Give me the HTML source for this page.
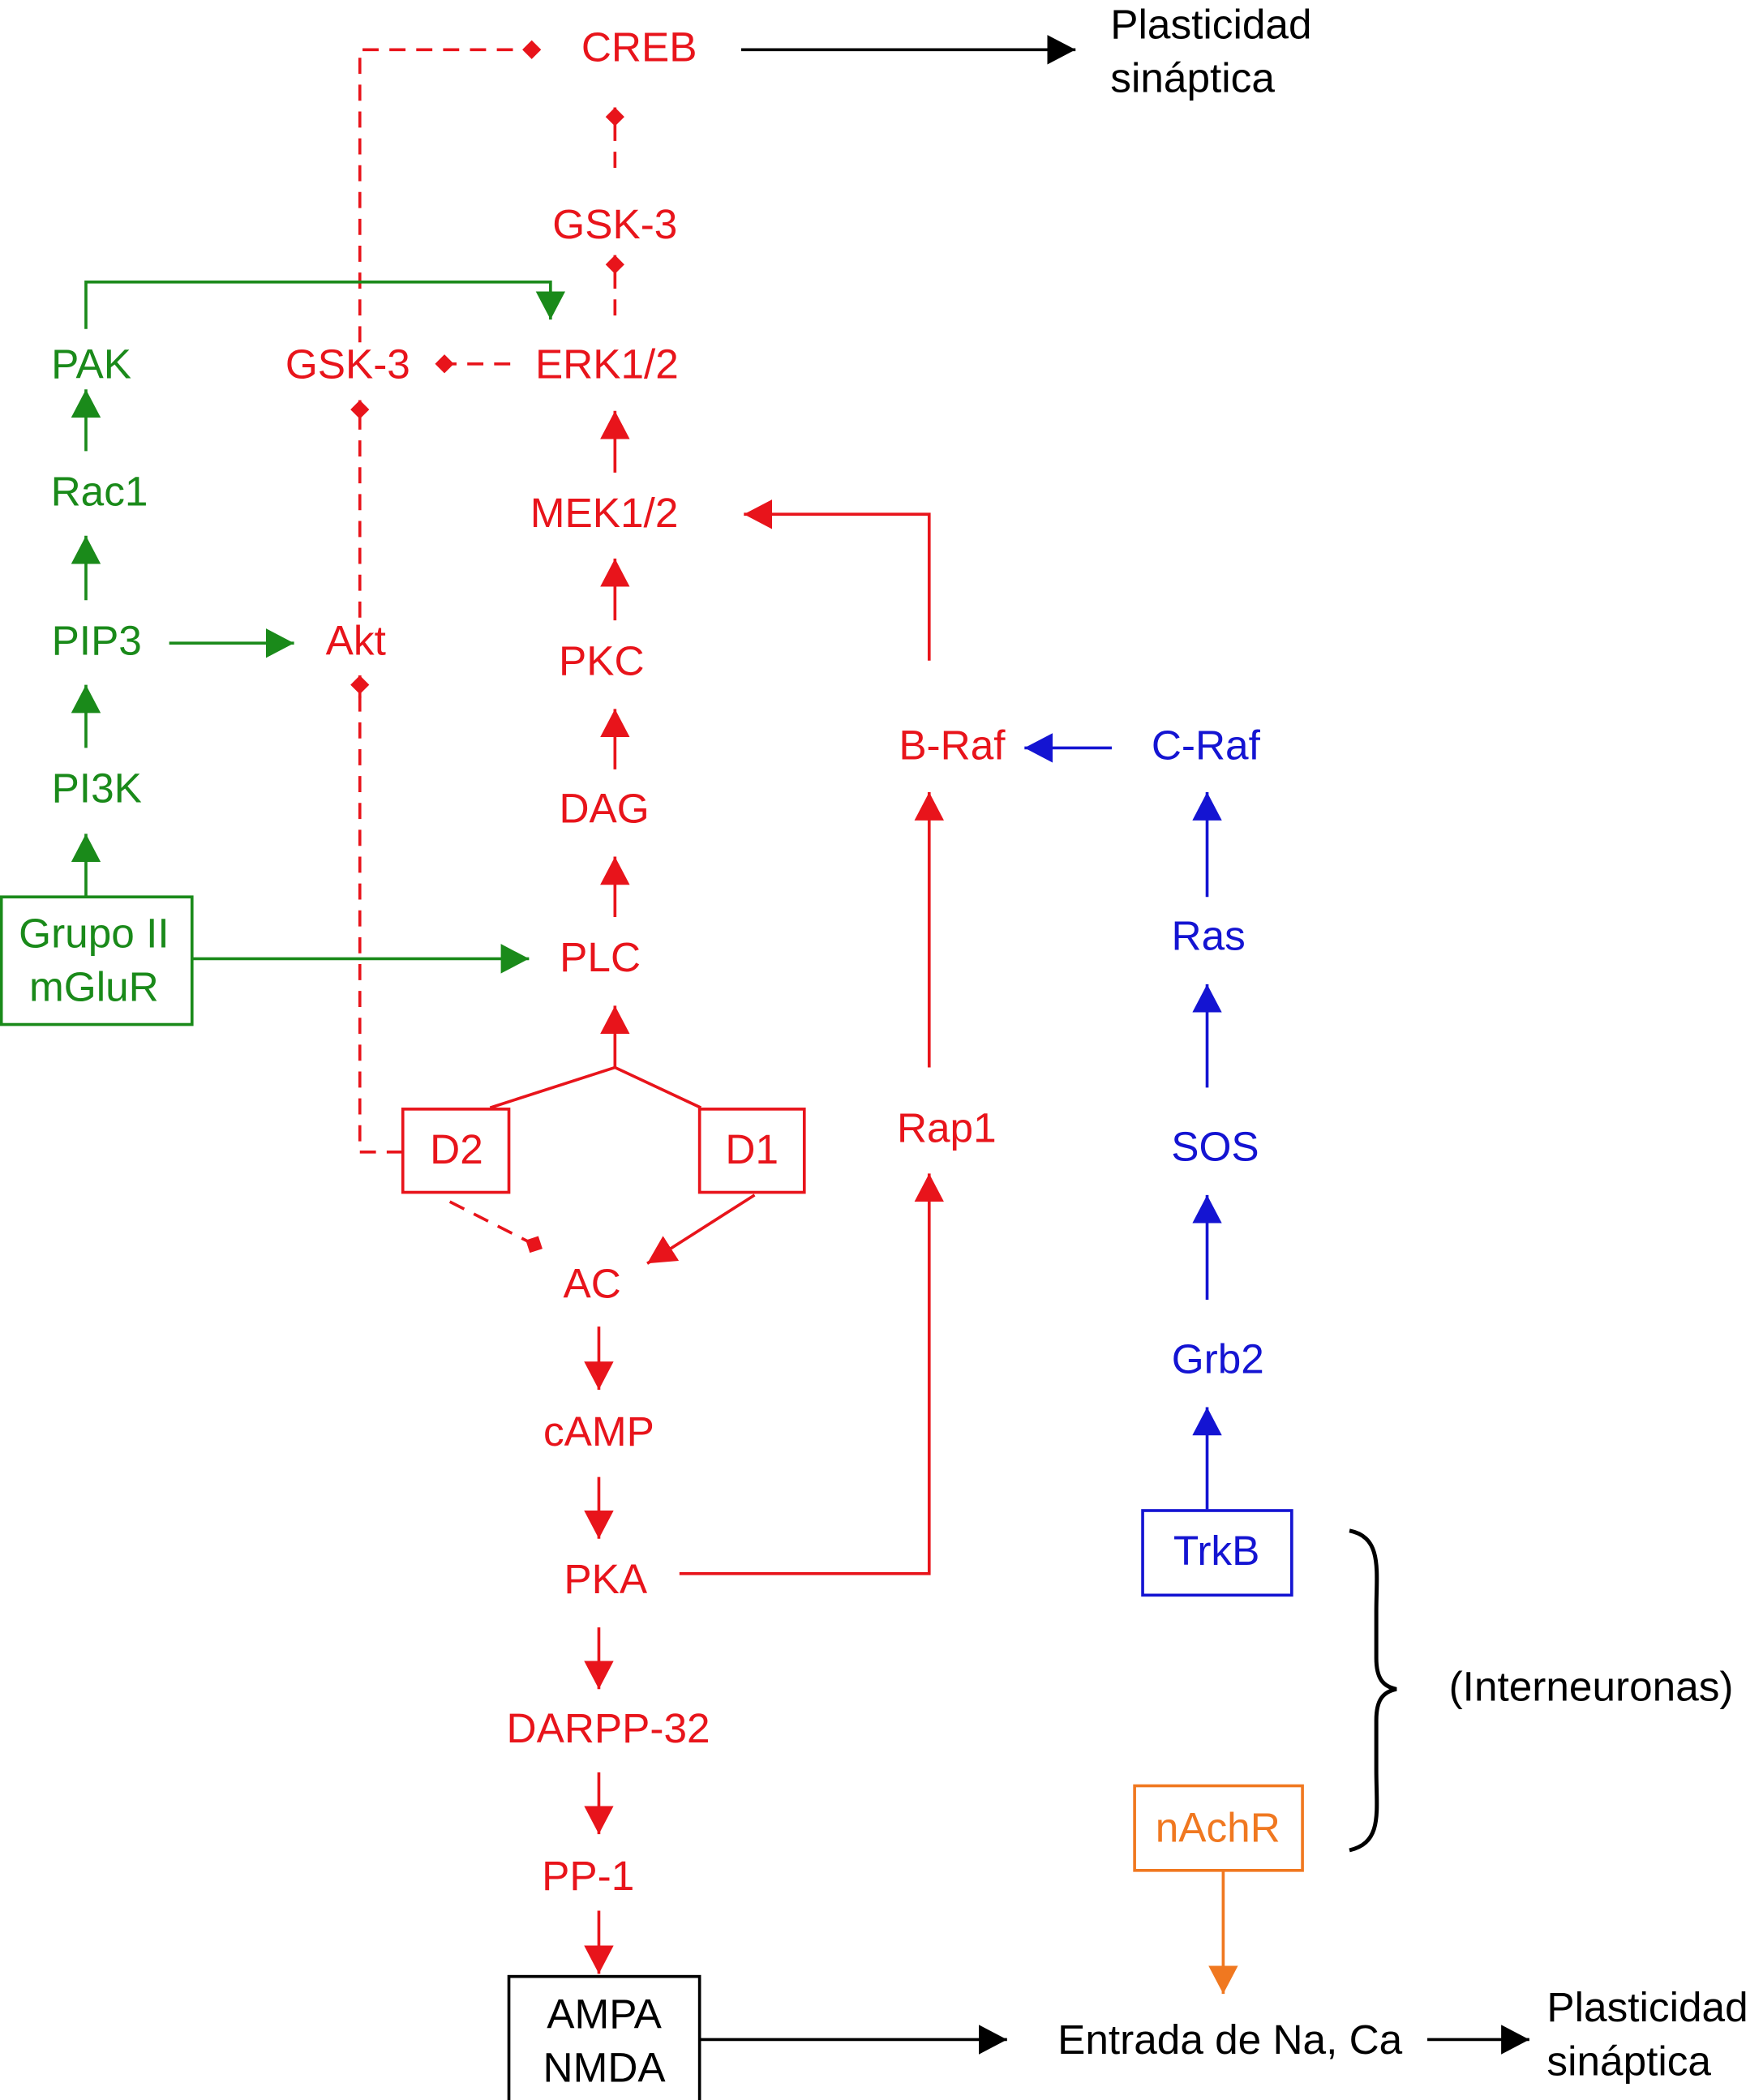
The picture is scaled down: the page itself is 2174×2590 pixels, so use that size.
<!DOCTYPE html>
<html><head><meta charset="utf-8"><style>
html,body{margin:0;padding:0;background:#fff}
svg{display:block}
text{font-family:"Liberation Sans",Arial,sans-serif;font-size:31px;text-anchor:middle;dominant-baseline:central}
.r{fill:#e8141b}.g{fill:#1a8a1a}.b{fill:#1414d2}.o{fill:#f07820}.k{fill:#000}
</style></head><body>
<svg width="2174" height="2590" viewBox="0 0 1313 1564" preserveAspectRatio="none" xmlns="http://www.w3.org/2000/svg">
<defs>
<marker id="ar" markerUnits="userSpaceOnUse" markerWidth="24" markerHeight="24" refX="21" refY="11" orient="auto"><path d="M0,0 L21,11 L0,22 z" fill="#e8141b"/></marker>
<marker id="ag" markerUnits="userSpaceOnUse" markerWidth="24" markerHeight="24" refX="21" refY="11" orient="auto"><path d="M0,0 L21,11 L0,22 z" fill="#1a8a1a"/></marker>
<marker id="ab" markerUnits="userSpaceOnUse" markerWidth="24" markerHeight="24" refX="21" refY="11" orient="auto"><path d="M0,0 L21,11 L0,22 z" fill="#1414d2"/></marker>
<marker id="ao" markerUnits="userSpaceOnUse" markerWidth="24" markerHeight="24" refX="21" refY="11" orient="auto"><path d="M0,0 L21,11 L0,22 z" fill="#f07820"/></marker>
<marker id="ak" markerUnits="userSpaceOnUse" markerWidth="24" markerHeight="24" refX="21" refY="11" orient="auto"><path d="M0,0 L21,11 L0,22 z" fill="#000"/></marker>
<marker id="dr" markerUnits="userSpaceOnUse" markerWidth="16" markerHeight="16" refX="14" refY="7" orient="auto"><path d="M0,7 L7,0 L14,7 L7,14 z" fill="#e8141b"/></marker>
</defs>
<g fill="none" stroke-width="2.2">
<path d="M552,37 H801" stroke="#000" marker-end="url(#ak)"/>
<path d="M521,1519 H750" stroke="#000" marker-end="url(#ak)"/>
<path d="M1063,1519 H1139" stroke="#000" marker-end="url(#ak)"/>
<path d="M1005,1140 C1030,1145 1025,1170 1025,1200 V1235 C1025,1250 1030,1256 1040,1258 C1030,1260 1025,1266 1025,1281 V1318 C1025,1350 1030,1372 1005,1378" stroke="#000" stroke-width="3"/>
<g stroke="#e8141b" stroke-dasharray="12,8">
<path d="M268,255 V37 H403" marker-end="url(#dr)"/>
<path d="M458,125 V80" marker-end="url(#dr)"/>
<path d="M458,235 V190" marker-end="url(#dr)"/>
<path d="M380,271 H324" marker-end="url(#dr)"/>
<path d="M268,460 V298" marker-end="url(#dr)"/>
<path d="M300,858 H268 V503"  />
<path d="M335,895 L404,930" marker-end="url(#dr)"/>
</g>
<path d="M268,520 V503" stroke="#e8141b" marker-end="url(#dr)"/>
<g stroke="#e8141b">
<path d="M458,352 V306" marker-end="url(#ar)"/>
<path d="M458,462 V416" marker-end="url(#ar)"/>
<path d="M458,573 V528" marker-end="url(#ar)"/>
<path d="M458,683 V638" marker-end="url(#ar)"/>
<path d="M458,795 V749" marker-end="url(#ar)"/>
<path d="M365,825 L458,795 L522,825"/>
<path d="M562,890 L482,941" marker-end="url(#ar)"/>
<path d="M446,988 V1035" marker-end="url(#ar)"/>
<path d="M446,1100 V1146" marker-end="url(#ar)"/>
<path d="M446,1212 V1258" marker-end="url(#ar)"/>
<path d="M446,1320 V1366" marker-end="url(#ar)"/>
<path d="M446,1423 V1470" marker-end="url(#ar)"/>
<path d="M506,1172 H692 V874" marker-end="url(#ar)"/>
<path d="M692,795 V590" marker-end="url(#ar)"/>
<path d="M692,492 V383 H554" marker-end="url(#ar)"/>
<rect x="300" y="826" width="79" height="62"/>
<rect x="521" y="826" width="78" height="62"/>
</g>
<g stroke="#1a8a1a">
<path d="M64,245 V210 H410 V238" marker-end="url(#ag)"/>
<path d="M64,336 V290" marker-end="url(#ag)"/>
<path d="M64,447 V399" marker-end="url(#ag)"/>
<path d="M64,557 V510" marker-end="url(#ag)"/>
<path d="M64,668 V621" marker-end="url(#ag)"/>
<path d="M126,479 H219" marker-end="url(#ag)"/>
<path d="M143,714 H394" marker-end="url(#ag)"/>
<rect x="1" y="668" width="142" height="95"/>
</g>
<g stroke="#1414d2">
<path d="M828,557 H763" marker-end="url(#ab)"/>
<path d="M899,668 V590" marker-end="url(#ab)"/>
<path d="M899,810 V733" marker-end="url(#ab)"/>
<path d="M899,968 V890" marker-end="url(#ab)"/>
<path d="M899,1124 V1048" marker-end="url(#ab)"/>
<rect x="851" y="1125" width="111" height="63"/>
</g>
<g stroke="#f07820">
<path d="M911,1393 V1485" marker-end="url(#ao)"/>
<rect x="845" y="1330" width="125" height="63"/>
</g>
<rect x="379" y="1472" width="142" height="94" stroke="#000"/>
</g>
<text class="r" x="476" y="35">CREB</text>
<text class="k" x="827" y="18" style="text-anchor:start">Plasticidad</text>
<text class="k" x="827" y="58" style="text-anchor:start">sináptica</text>
<text class="r" x="458" y="167">GSK-3</text>
<text class="g" x="68" y="271">PAK</text>
<text class="r" x="259" y="271">GSK-3</text>
<text class="r" x="452" y="271">ERK1/2</text>
<text class="g" x="74" y="366">Rac1</text>
<text class="r" x="450" y="382">MEK1/2</text>
<text class="g" x="72" y="477">PIP3</text>
<text class="r" x="265" y="477">Akt</text>
<text class="r" x="448" y="492">PKC</text>
<text class="r" x="709" y="555">B-Raf</text>
<text class="b" x="898" y="555">C-Raf</text>
<text class="g" x="72" y="587">PI3K</text>
<text class="r" x="450" y="602">DAG</text>
<text class="g" x="70" y="695">Grupo II</text>
<text class="g" x="70" y="735">mGluR</text>
<text class="b" x="900" y="697">Ras</text>
<text class="r" x="447" y="713">PLC</text>
<text class="r" x="705" y="840">Rap1</text>
<text class="r" x="340" y="856">D2</text>
<text class="r" x="560" y="856">D1</text>
<text class="b" x="905" y="854">SOS</text>
<text class="r" x="441" y="956">AC</text>
<text class="b" x="907" y="1012">Grb2</text>
<text class="r" x="446" y="1066">cAMP</text>
<text class="b" x="906" y="1155">TrkB</text>
<text class="r" x="451" y="1176">PKA</text>
<text class="k" x="1185" y="1256">(Interneuronas)</text>
<text class="r" x="453" y="1287">DARPP-32</text>
<text class="o" x="907" y="1361">nAchR</text>
<text class="r" x="438" y="1397">PP-1</text>
<text class="k" x="450" y="1500">AMPA</text>
<text class="k" x="450" y="1540">NMDA</text>
<text class="k" x="916" y="1519">Entrada de Na, Ca</text>
<text class="k" x="1152" y="1495" style="text-anchor:start">Plasticidad</text>
<text class="k" x="1152" y="1535" style="text-anchor:start">sináptica</text>
</svg>
</body></html>
